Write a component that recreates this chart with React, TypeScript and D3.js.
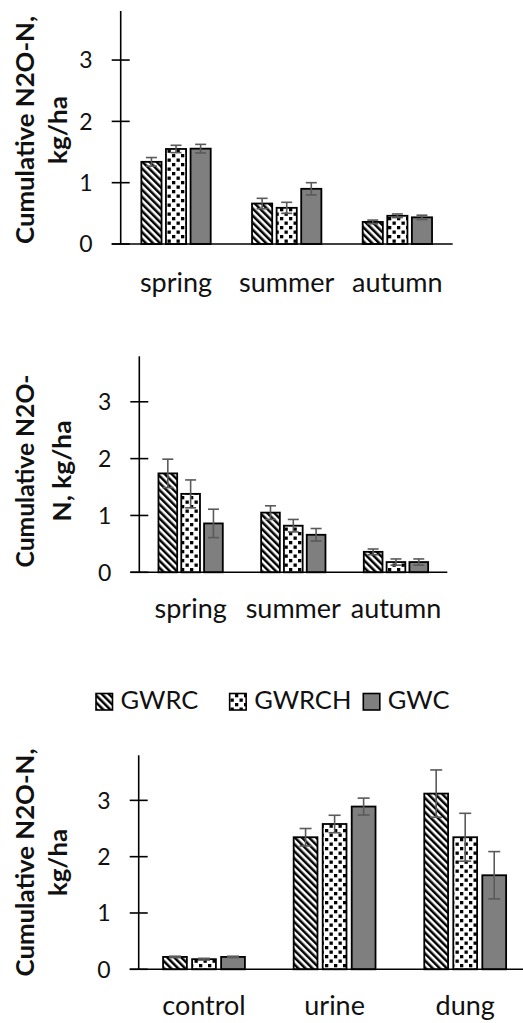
import React from "react";
import * as d3 from "d3";

const seriesNames = ["GWRC", "GWRCH", "GWC"];
const seasonCats = ["spring", "summer", "autumn"];
const sourceCats = ["control", "urine", "dung"];
const yTicks = [0, 1, 2, 3];
const yMax = 3.8;

// chart 1 (top)
const c1GWRC = [1.34, 0.66, 0.36];
const c1GWRCH = [1.55, 0.59, 0.46];
const c1GWC = [1.555, 0.9, 0.435];
const c1GWRCErr = [0.07, 0.085, 0.03];
const c1GWRCHErr = [0.06, 0.09, 0.03];
const c1GWCErr = [0.07, 0.1, 0.035];

// chart 2 (middle)
const c2GWRC = [1.74, 1.05, 0.36];
const c2GWRCH = [1.38, 0.82, 0.18];
const c2GWC = [0.86, 0.66, 0.18];
const c2GWRCErr = [0.25, 0.12, 0.05];
const c2GWRCHErr = [0.245, 0.11, 0.055];
const c2GWCErr = [0.25, 0.11, 0.055];

// chart 3 (bottom)
const c3GWRC = [0.22, 2.345, 3.12];
const c3GWRCH = [0.18, 2.58, 2.345];
const c3GWC = [0.22, 2.89, 1.67];
const c3GWRCErr = [0.012, 0.155, 0.42];
const c3GWRCHErr = [0.015, 0.155, 0.425];
const c3GWCErr = [0.012, 0.15, 0.42];

const FONT = "Lato, 'Open Sans', sans-serif";
const fills = ["url(#stripes)", "url(#dots)", "#7f7f7f"];

type ChartProps = {
  cats: string[];
  vals: number[][];
  errs: number[][];
  x0: number;
  x1: number;
  yBase: number;
  yTop: number;
  title: string[];
  titleLens: number[];
  titleXs: number[];
  titleY: number;
  labelDy: number;
  capHalf: number;
};

function BarChart(p: ChartProps) {
  const y = d3.scaleLinear().domain([0, yMax]).range([p.yBase, p.yTop]);
  const xg = d3.scaleBand().domain(p.cats).range([p.x0, p.x1]).padding(0);
  const xs = d3
    .scaleBand()
    .domain(seriesNames)
    .range([0, xg.bandwidth()])
    .paddingInner(0.18)
    .paddingOuter(0.84);
  const bw = xs.bandwidth();
  return (
    <g>
      {p.cats.map((c, ci) =>
        seriesNames.map((s, si) => {
          const v = p.vals[si][ci];
          const x = (xg(c) as number) + (xs(s) as number);
          return (
            <rect
              key={c + s}
              x={x}
              y={y(v)}
              width={bw}
              height={y(0) - y(v)}
              fill={fills[si]}
              stroke="#000"
              strokeWidth={1.8}
            />
          );
        })
      )}
      {p.cats.map((c, ci) =>
        seriesNames.map((s, si) => {
          const v = p.vals[si][ci];
          const e = p.errs[si][ci];
          const cx = (xg(c) as number) + (xs(s) as number) + bw / 2;
          return (
            <g key={"e" + c + s} stroke="#5a5a5a" strokeWidth={1.6}>
              <line x1={cx} x2={cx} y1={y(v - e)} y2={y(v + e)} />
              <line x1={cx - p.capHalf} x2={cx + p.capHalf} y1={y(v + e)} y2={y(v + e)} />
              <line x1={cx - p.capHalf} x2={cx + p.capHalf} y1={y(v - e)} y2={y(v - e)} />
            </g>
          );
        })
      )}
      <line x1={p.x0} x2={p.x0} y1={p.yTop} y2={p.yBase} stroke="#000" strokeWidth={1.6} />
      <line x1={p.x0 - 9} x2={p.x1} y1={p.yBase} y2={p.yBase} stroke="#000" strokeWidth={1.6} />
      {yTicks.map((t) => (
        <g key={t}>
          <line x1={p.x0 - 9} x2={p.x0 + 9} y1={y(t)} y2={y(t)} stroke="#000" strokeWidth={1.6} />
          <text
            x={p.x0 - 28}
            y={y(t)}
            dy="0.36em"
            textAnchor="end"
            fontSize={23}
            fontFamily={FONT}
            fill="#111"
          >
            {t}
          </text>
        </g>
      ))}
      {p.cats.map((c) => (
        <text
          key={"l" + c}
          x={(xg(c) as number) + xg.bandwidth() / 2}
          y={p.yBase + p.labelDy}
          textAnchor="middle"
          fontSize={27}
          fontFamily={FONT}
          fill="#111"
        >
          {c}
        </text>
      ))}
      {p.title.map((t, i) => (
        <text
          key={"t" + i}
          transform={`translate(${p.titleXs[i]},${p.titleY}) rotate(-90)`}
          textAnchor="middle"
          fontSize={25}
          fontWeight="bold"
          fontFamily={FONT}
          fill="#111"
          textLength={p.titleLens[i]}
          lengthAdjust="spacingAndGlyphs"
        >
          {t}
        </text>
      ))}
    </g>
  );
}

function Legend() {
  const lx = d3.scalePoint().domain(seriesNames).range([96, 363.3]);
  return (
    <g>
      {seriesNames.map((s, i) => {
        const x = lx(s) as number;
        return (
          <g key={s}>
            <rect x={x} y={693.5} width={16.5} height={16.5} fill={fills[i]} stroke="#000" strokeWidth={1.6} />
            <text x={x + 24.5} y={709} fontSize={25.5} fontFamily={FONT} fill="#111">
              {s}
            </text>
          </g>
        );
      })}
    </g>
  );
}

export default function App() {
  return (
    <svg
      width={523}
      height={1023}
      style={{ position: "absolute", left: 0, top: 0, background: "#fff" }}
    >
      <defs>
        <pattern id="stripes" patternUnits="userSpaceOnUse" width={5} height={5} patternTransform="rotate(-45)">
          <rect x={0} y={0} width={5} height={5} fill="#fff" />
          <rect x={0} y={0} width={2.5} height={5} fill="#000" />
        </pattern>
        <pattern id="dots" patternUnits="userSpaceOnUse" width={9} height={9}>
          <rect x={0} y={0} width={9} height={9} fill="#fff" />
          <rect x={1} y={1} width={3.3} height={3.3} fill="#000" />
          <rect x={5.5} y={5.5} width={3.3} height={3.3} fill="#000" />
        </pattern>
      </defs>
      <rect x={0} y={0} width={523} height={1023} fill="#fff" />
      <BarChart
        cats={seasonCats}
        vals={[c1GWRC, c1GWRCH, c1GWC]}
        errs={[c1GWRCErr, c1GWRCHErr, c1GWCErr]}
        x0={120.7}
        x1={452.7}
        yBase={244}
        yTop={11}
        title={["Cumulative N2O-N,", "kg/ha"]}
        titleLens={[228, 68]}
        titleXs={[34, 67]}
        titleY={130}
        labelDy={48}
        capHalf={5.5}
      />
      <BarChart
        cats={seasonCats}
        vals={[c2GWRC, c2GWRCH, c2GWC]}
        errs={[c2GWRCErr, c2GWRCHErr, c2GWCErr]}
        x0={139.3}
        x1={447.3}
        yBase={572.3}
        yTop={356.3}
        title={["Cumulative N2O-", "N, kg/ha"]}
        titleLens={[193, 101]}
        titleXs={[34, 71]}
        titleY={471}
        labelDy={46}
        capHalf={5.5}
      />
      <Legend />
      <BarChart
        cats={sourceCats}
        vals={[c3GWRC, c3GWRCH, c3GWC]}
        errs={[c3GWRCErr, c3GWRCHErr, c3GWCErr]}
        x0={138.7}
        x1={530.5}
        yBase={969.3}
        yTop={755.3}
        title={["Cumulative N2O-N,", "kg/ha"]}
        titleLens={[228, 67]}
        titleXs={[34, 67]}
        titleY={862.5}
        labelDy={46}
        capHalf={6}
      />
    </svg>
  );
}
